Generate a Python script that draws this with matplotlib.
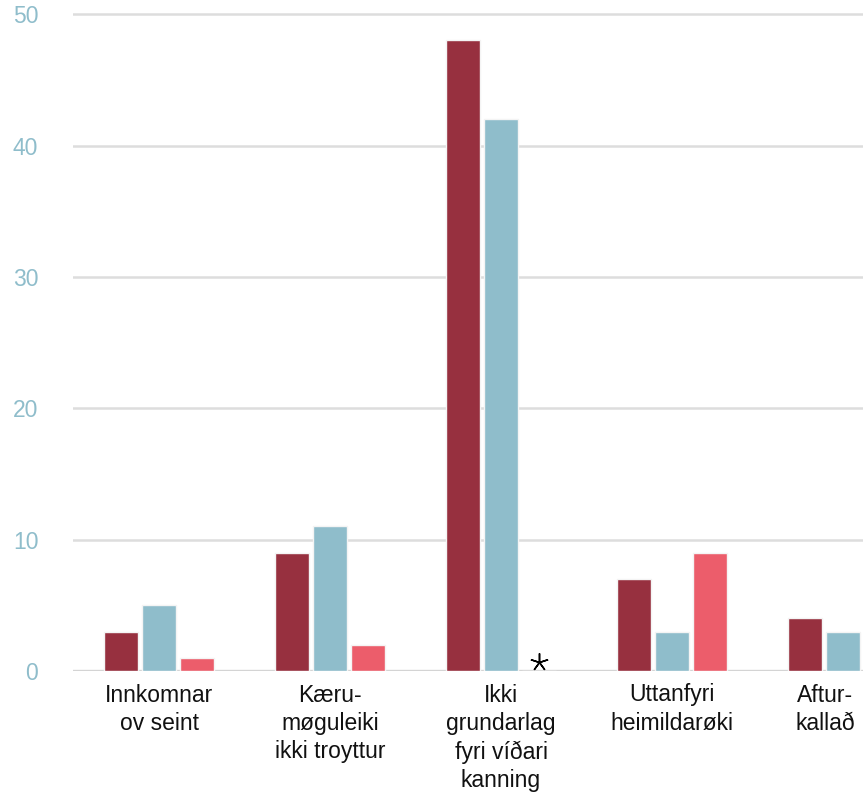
import numpy as np
import matplotlib.pyplot as plt
import matplotlib.transforms as mtransforms

categories = ['Innkomnar\nov seint', 'Kæru-\nmøguleiki\nikki troyttur',
              'Ikki\ngrundarlag\nfyri víðari\nkanning', 'Uttanfyri\nheimildarøki',
              'Aftur-\nkallað']
series_a = [3, 9, 48, 7, 4]     # dark red
series_b = [5, 11, 42, 3, 3]    # light blue
series_c = [1, 2, 0, 9, 0]      # pink
yticks = [0, 10, 20, 30, 40, 50]

col_a = '#97303f'
col_b = '#8fbdcb'
col_c = '#ec5d6b'

plt.rcParams['font.family'] = ['Liberation Sans', 'DejaVu Sans']

fig = plt.figure(figsize=(8.63, 7.94), dpi=100)
ax = fig.add_axes([73 / 863, 1 - 671 / 794, 1 - 73 / 863, (671 - 1) / 794])

x = np.arange(len(categories))
w = 0.2
off = 0.22
ax.bar(x - off, series_a, w, color=col_a, edgecolor='#f4f4f4', linewidth=1, zorder=3)
ax.bar(x, series_b, w, color=col_b, edgecolor='#f4f4f4', linewidth=1, zorder=3)
ax.bar(x + off, series_c, w, color=col_c, edgecolor='#f4f4f4', linewidth=1, zorder=3)

# star for the missing value in group 3
ax.plot(2 + off, 0.7, marker=(5, 2, 0), markersize=13, color='black',
        markeredgewidth=1.1, zorder=4, clip_on=False)

ax.set_xlim(-0.503, 4.117)
ax.set_ylim(0, 51)
ax.set_yticks(yticks)
ax.set_yticklabels([str(t) for t in yticks])
for t in yticks:
    if t == 0:
        ax.axhline(t, color='#d4d4d4', linewidth=2.4, zorder=2)
    else:
        ax.axhline(t, color='#dddddd', linewidth=1.8, zorder=1)

ax.set_xticks(x)
ax.set_xticklabels(categories, fontsize=16.5, color='#111111', linespacing=1.3, va='top')
ax.tick_params(axis='x', length=0, pad=9)
ax.tick_params(axis='y', length=0, pad=25, labelsize=16.5, labelcolor=col_b)

# last label pulled left so it stays inside the figure
last = ax.get_xticklabels()[-1]
last.set_transform(last.get_transform() +
                   mtransforms.ScaledTranslation(-0.18, 0, fig.dpi_scale_trans))

for s in ax.spines.values():
    s.set_visible(False)

fig.savefig('out.png', dpi=100)
